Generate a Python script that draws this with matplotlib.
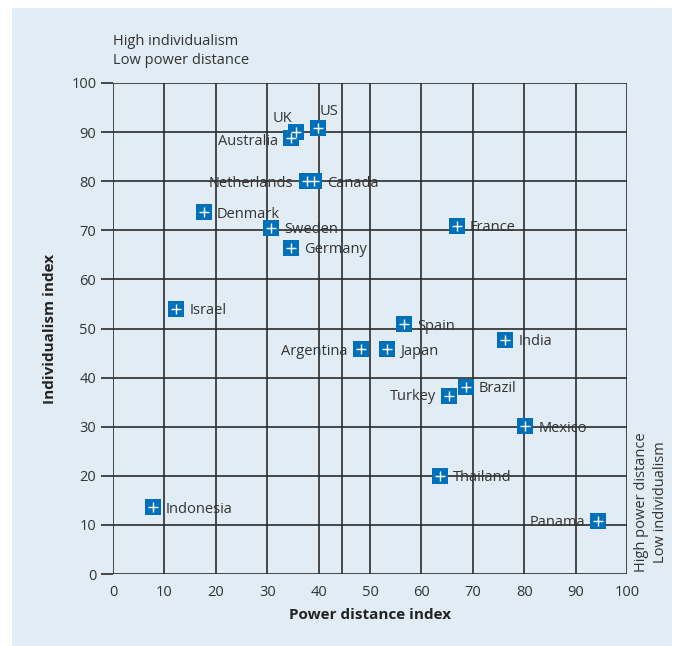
import matplotlib
matplotlib.use("Agg")
import matplotlib.pyplot as plt
from matplotlib.patches import Rectangle

countries = ["UK", "Australia", "US", "Netherlands", "Canada", "Denmark", "Sweden",
             "Germany", "France", "Israel", "Spain", "India", "Argentina", "Japan",
             "Turkey", "Brazil", "Mexico", "Thailand", "Panama", "Indonesia"]
power_distance = [35.6, 34.6, 39.9, 37.7, 39.1, 17.7, 30.7, 34.6, 66.9, 12.3,
                  56.6, 76.3, 48.2, 53.3, 65.4, 68.7, 80.2, 63.6, 94.4, 7.8]
individualism = [90.0, 88.8, 90.8, 80.0, 80.0, 73.7, 70.5, 66.4, 70.9, 54.0,
                 50.9, 47.7, 45.8, 45.8, 36.3, 38.1, 30.1, 20.0, 10.8, 13.6]
# label placement: offset in pixels (dx, dy up), horizontal alignment
label_pos = {
    "UK": (-14, 14, "center"), "US": (2, 17, "left"),
    "Australia": (-13, -4, "right"), "Netherlands": (-14, -2, "right"),
    "Argentina": (-13, -2, "right"), "Turkey": (-13, -1, "right"),
    "Panama": (-13, -2, "right"),
}
xticks = list(range(0, 101, 10))
yticks = list(range(0, 101, 10))
mean_pd = 44.5

plt.rcParams['font.family'] = ['Open Sans', 'DejaVu Sans']
fig = plt.figure(figsize=(6.78, 6.46), dpi=100)
fig.patch.set_facecolor("white")
bg = "#e1ecf4"
fig.patches.append(Rectangle((12/678, 0), (672-12)/678, (646-8)/646,
                             transform=fig.transFigure, facecolor=bg,
                             edgecolor="none", zorder=-10))
ax = fig.add_axes([113/678, 1-574/646, (627-113)/678, (574-83)/646])
ax.set_facecolor(bg)
ax.set_xlim(0, 100)
ax.set_ylim(0, 100)
gc = "#2b2b2b"
for v in xticks:
    ax.axvline(v, color=gc, lw=1.2, zorder=1)
for v in yticks:
    ax.axhline(v, color=gc, lw=1.2, zorder=1)
ax.axvline(mean_pd, color=gc, lw=1.2, zorder=1)
for s in ax.spines.values():
    s.set_visible(False)
ax.set_xticks(xticks)
ax.set_yticks(yticks)
ax.tick_params(axis='x', length=0, pad=8, labelsize=10.5, labelcolor="#333333")
ax.tick_params(axis='y', length=9, width=1.2, color=gc, pad=3, labelsize=10.5,
               labelcolor="#333333")

blue = "#0070bb"
ax.scatter(power_distance, individualism, marker='s', s=15.5**2*0.52, color=blue,
           zorder=3, linewidths=0)
ax.scatter(power_distance, individualism, marker='+', s=60, color="white",
           zorder=4, linewidths=1.0)

px2pt = 72/100
for c, x, y in zip(countries, power_distance, individualism):
    dx, dy, ha = label_pos.get(c, (13, -2, "left"))
    ax.annotate(c, (x, y), xytext=(dx*px2pt, dy*px2pt), textcoords='offset points',
                ha=ha, va='center', fontsize=10.5, color="#333333", zorder=5)

ax.set_xlabel("Power distance index", fontsize=11, fontweight='bold',
              color="#222222", labelpad=6)
ax.set_ylabel("Individualism index", fontsize=11, fontweight='bold',
              color="#222222", labelpad=10)
fig.text(113/678, 1-51/646, "High individualism\nLow power distance", ha='left',
         va='center', fontsize=10.5, color="#333333", linespacing=1.45)
fig.text(651/678, 1-572/646, "High power distance\nLow individualism", ha='center',
         va='bottom', rotation=90, fontsize=10.5, color="#333333", linespacing=1.45)

fig.savefig("out.png", dpi=100)
